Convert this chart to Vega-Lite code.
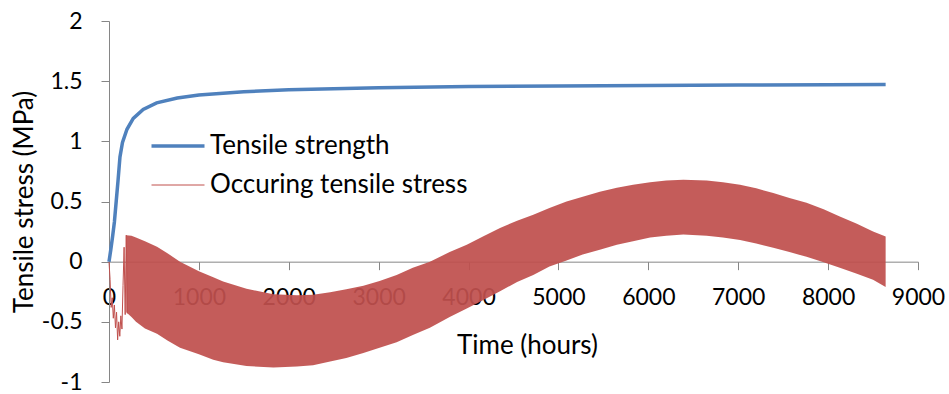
{
  "$schema": "https://vega.github.io/schema/vega-lite/v6.json",
  "width": 809,
  "height": 361,
  "autosize": {"type": "none"},
  "padding": {"left": 109, "top": 21, "right": 31, "bottom": 12},
  "background": "#ffffff",
  "config": {
    "view": {"stroke": null},
    "font": "Lato",
    "axis": {
      "domainColor": "#868686", "tickColor": "#868686", "grid": false,
      "labelFont": "Lato", "labelFontSize": 23, "labelColor": "#000000",
      "titleFont": "Lato", "titleFontSize": 26, "titleFontWeight": "normal", "titleColor": "#000000",
      "tickSize": 8
    }
  },
  "datasets": {
    "band": [
      {"t": 192, "hi": 0.22, "lo": -0.42},
      {"t": 250, "hi": 0.215, "lo": -0.46},
      {"t": 300, "hi": 0.2, "lo": -0.5},
      {"t": 400, "hi": 0.17, "lo": -0.555},
      {"t": 534, "hi": 0.125, "lo": -0.6},
      {"t": 650, "hi": 0.07, "lo": -0.655},
      {"t": 790, "hi": 0.0, "lo": -0.715},
      {"t": 1000, "hi": -0.08, "lo": -0.77},
      {"t": 1160, "hi": -0.13, "lo": -0.815},
      {"t": 1270, "hi": -0.165, "lo": -0.835},
      {"t": 1530, "hi": -0.225, "lo": -0.868},
      {"t": 1830, "hi": -0.27, "lo": -0.88},
      {"t": 2090, "hi": -0.28, "lo": -0.872},
      {"t": 2270, "hi": -0.275, "lo": -0.86},
      {"t": 2460, "hi": -0.255, "lo": -0.83},
      {"t": 2640, "hi": -0.23, "lo": -0.8},
      {"t": 2830, "hi": -0.2, "lo": -0.76},
      {"t": 3010, "hi": -0.16, "lo": -0.715},
      {"t": 3200, "hi": -0.11, "lo": -0.67},
      {"t": 3380, "hi": -0.05, "lo": -0.61},
      {"t": 3570, "hi": 0.0, "lo": -0.55},
      {"t": 3790, "hi": 0.08, "lo": -0.46},
      {"t": 3980, "hi": 0.14, "lo": -0.39},
      {"t": 4160, "hi": 0.21, "lo": -0.32},
      {"t": 4350, "hi": 0.28, "lo": -0.245},
      {"t": 4540, "hi": 0.34, "lo": -0.17},
      {"t": 4720, "hi": 0.39, "lo": -0.11},
      {"t": 4900, "hi": 0.445, "lo": -0.04},
      {"t": 5090, "hi": 0.5, "lo": 0.01},
      {"t": 5270, "hi": 0.54, "lo": 0.06},
      {"t": 5460, "hi": 0.58, "lo": 0.1},
      {"t": 5650, "hi": 0.615, "lo": 0.14},
      {"t": 5830, "hi": 0.64, "lo": 0.17},
      {"t": 6020, "hi": 0.66, "lo": 0.2},
      {"t": 6200, "hi": 0.675, "lo": 0.215},
      {"t": 6390, "hi": 0.68, "lo": 0.225},
      {"t": 6650, "hi": 0.675, "lo": 0.215},
      {"t": 6830, "hi": 0.66, "lo": 0.2},
      {"t": 7020, "hi": 0.64, "lo": 0.18},
      {"t": 7200, "hi": 0.61, "lo": 0.15},
      {"t": 7390, "hi": 0.57, "lo": 0.115},
      {"t": 7570, "hi": 0.53, "lo": 0.08},
      {"t": 7760, "hi": 0.49, "lo": 0.04},
      {"t": 7950, "hi": 0.435, "lo": -0.005},
      {"t": 8130, "hi": 0.375, "lo": -0.05},
      {"t": 8320, "hi": 0.315, "lo": -0.1},
      {"t": 8500, "hi": 0.25, "lo": -0.15},
      {"t": 8640, "hi": 0.21, "lo": -0.21}
    ],
    "early": [
      {"t": 0, "s": 0, "series": "Occuring tensile stress"},
      {"t": 12, "s": -0.15, "series": "Occuring tensile stress"},
      {"t": 24, "s": -0.38, "series": "Occuring tensile stress"},
      {"t": 36, "s": -0.3, "series": "Occuring tensile stress"},
      {"t": 48, "s": -0.47, "series": "Occuring tensile stress"},
      {"t": 60, "s": -0.36, "series": "Occuring tensile stress"},
      {"t": 72, "s": -0.55, "series": "Occuring tensile stress"},
      {"t": 84, "s": -0.42, "series": "Occuring tensile stress"},
      {"t": 96, "s": -0.65, "series": "Occuring tensile stress"},
      {"t": 108, "s": -0.5, "series": "Occuring tensile stress"},
      {"t": 120, "s": -0.62, "series": "Occuring tensile stress"},
      {"t": 132, "s": -0.45, "series": "Occuring tensile stress"},
      {"t": 144, "s": -0.56, "series": "Occuring tensile stress"},
      {"t": 156, "s": -0.2, "series": "Occuring tensile stress"},
      {"t": 168, "s": 0.12, "series": "Occuring tensile stress"},
      {"t": 180, "s": -0.44, "series": "Occuring tensile stress"},
      {"t": 192, "s": 0.22, "series": "Occuring tensile stress"},
      {"t": 204, "s": -0.43, "series": "Occuring tensile stress"}
    ],
    "strength": [
      {"t": 0, "s": 0, "series": "Tensile strength"},
      {"t": 20, "s": 0.1, "series": "Tensile strength"},
      {"t": 40, "s": 0.21, "series": "Tensile strength"},
      {"t": 60, "s": 0.33, "series": "Tensile strength"},
      {"t": 80, "s": 0.5, "series": "Tensile strength"},
      {"t": 100, "s": 0.67, "series": "Tensile strength"},
      {"t": 122, "s": 0.87, "series": "Tensile strength"},
      {"t": 150, "s": 0.99, "series": "Tensile strength"},
      {"t": 200, "s": 1.1, "series": "Tensile strength"},
      {"t": 270, "s": 1.19, "series": "Tensile strength"},
      {"t": 380, "s": 1.265, "series": "Tensile strength"},
      {"t": 530, "s": 1.32, "series": "Tensile strength"},
      {"t": 760, "s": 1.36, "series": "Tensile strength"},
      {"t": 1000, "s": 1.385, "series": "Tensile strength"},
      {"t": 1500, "s": 1.412, "series": "Tensile strength"},
      {"t": 2000, "s": 1.428, "series": "Tensile strength"},
      {"t": 3000, "s": 1.445, "series": "Tensile strength"},
      {"t": 4000, "s": 1.455, "series": "Tensile strength"},
      {"t": 5000, "s": 1.46, "series": "Tensile strength"},
      {"t": 6000, "s": 1.465, "series": "Tensile strength"},
      {"t": 7000, "s": 1.468, "series": "Tensile strength"},
      {"t": 8000, "s": 1.47, "series": "Tensile strength"},
      {"t": 8640, "s": 1.472, "series": "Tensile strength"}
    ]
  },
  "encoding": {
    "x": {
      "field": "t", "type": "quantitative",
      "scale": {"domain": [0, 9000], "nice": false, "zero": false},
      "axis": {
        "title": "Time (hours)",
        "values": [0, 1000, 2000, 3000, 4000, 5000, 6000, 7000, 8000, 9000],
        "format": "d", "offset": -120.33, "labelPadding": 17, "titlePadding": 23,
        "labelFlush": false, "labelOverlap": false, "titleX": 418
      }
    }
  },
  "layer": [
    {
      "data": {"name": "band"},
      "mark": {"type": "area", "color": "#C0504D", "opacity": 0.93, "interpolate": "linear"},
      "encoding": {
        "y": {
          "field": "hi", "type": "quantitative", "title": "Tensile stress (MPa)",
          "scale": {"domain": [-1, 2], "nice": false, "zero": false},
          "axis": {
            "values": [-1, -0.5, 0, 0.5, 1, 1.5, 2],
            "labelExpr": "toString(datum.value)",
            "labelPadding": 19, "titlePadding": 4
          }
        },
        "y2": {"field": "lo"}
      }
    },
    {
      "data": {"name": "early"},
      "mark": {"type": "line", "strokeWidth": 1},
      "encoding": {
        "y": {"field": "s", "type": "quantitative", "title": "Tensile stress (MPa)"},
        "color": {
          "field": "series", "type": "nominal",
          "scale": {"domain": ["Tensile strength", "Occuring tensile stress"], "range": ["#4F81BD", "#C0504D"]}
        }
      }
    },
    {
      "data": {"name": "strength"},
      "mark": {"type": "line", "strokeWidth": 3.5},
      "encoding": {
        "y": {"field": "s", "type": "quantitative", "title": "Tensile stress (MPa)"},
        "color": {
          "field": "series", "type": "nominal",
          "scale": {"domain": ["Tensile strength", "Occuring tensile stress"], "range": ["#4F81BD", "#C0504D"]},
          "legend": {
            "orient": "none", "legendX": 56, "legendY": 112, "title": null,
            "symbolType": "stroke", "symbolSize": 2809, "symbolStrokeWidth": 1,
            "labelFont": "Lato", "labelFontSize": 26, "labelColor": "#000000", "labelLimit": 600,
            "rowPadding": 13, "labelOffset": 19, "padding": 0,
            "encode": {"symbols": {"update": {
              "strokeWidth": {"signal": "datum.value === 'Tensile strength' ? 3.5 : 1"},
              "stroke": {"signal": "datum.value === 'Tensile strength' ? '#4F81BD' : '#C0504D'"}
            }}}
          }
        }
      }
    }
  ]
}
